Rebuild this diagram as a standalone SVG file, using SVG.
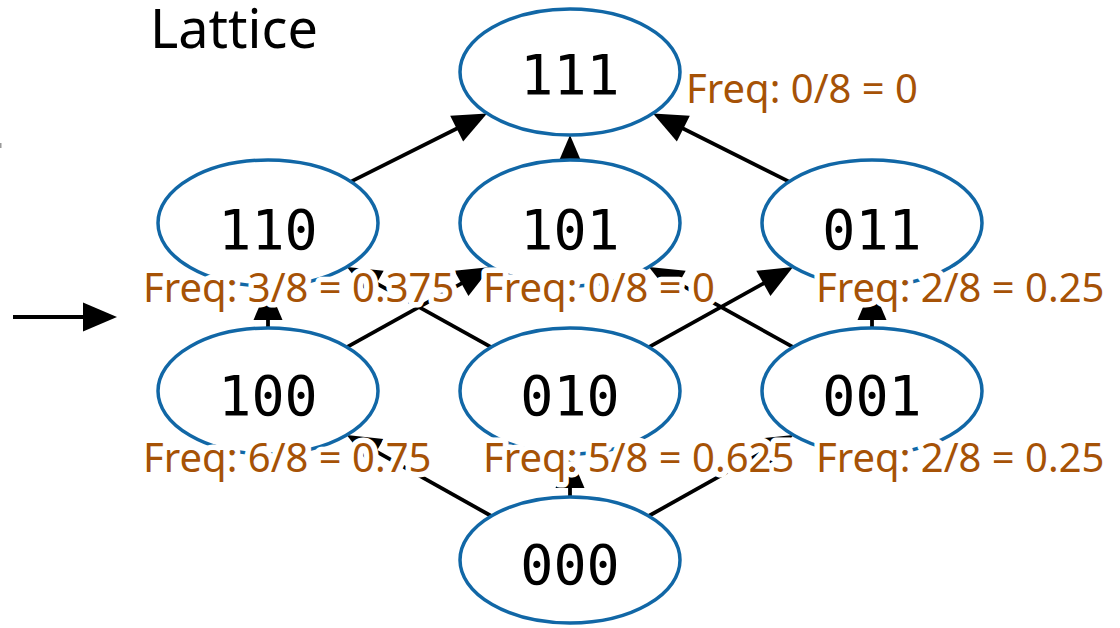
<svg xmlns="http://www.w3.org/2000/svg" width="1120" height="628" viewBox="0 0 1120 628">
  <style>
    .node ellipse { fill: #ffffff; stroke: #1167a6; stroke-width: 3.5; }
    .node .name { font-family: "DejaVu Sans Mono", monospace; font-size: 55px; fill: #000000; text-anchor: middle; }
    .node .freq { font-family: "Noto Sans", "Open Sans", sans-serif; font-size: 40px; fill: #a65206;
                  stroke: #ffffff; stroke-width: 11; stroke-linejoin: round; paint-order: stroke; }
    .title { font-family: "Noto Sans", "Open Sans", sans-serif; font-size: 54px; fill: #000000; }
    #edges line { stroke: #000000; stroke-width: 3.8; marker-end: url(#head); }
  </style>
  <defs>
    <marker id="head" markerUnits="userSpaceOnUse" markerWidth="34" markerHeight="29"
            refX="26" refY="14.5" orient="auto" overflow="visible">
      <path d="M0,0 L34,14.5 L0,29 Z" fill="#000000"/>
    </marker>
  </defs>

  <rect width="1120" height="628" fill="#ffffff"/>

  <text class="title" x="150" y="48">Lattice</text>
  <rect x="0" y="143" width="1.5" height="5" fill="#9a9a9a"/>

  <!-- connectors: every arrow runs from an element to its superset -->
  <g id="edges">
    <line x1="13" y1="317" x2="109" y2="317"/>
    <line x1="350.9" y1="181.6" x2="479.9" y2="117.0"/>
    <line x1="570" y1="160" x2="570" y2="143"/>
    <line x1="789.1" y1="181.6" x2="660.1" y2="117.0"/>
    <line x1="268" y1="328" x2="268" y2="294"/>
    <line x1="346.9" y1="347.1" x2="484.1" y2="270.8"/>
    <line x1="491.1" y1="347.1" x2="353.9" y2="270.8"/>
    <line x1="648.9" y1="347.1" x2="786.1" y2="270.8"/>
    <line x1="793.1" y1="347.1" x2="655.9" y2="270.8"/>
    <line x1="872" y1="328" x2="872" y2="294"/>
    <line x1="491.3" y1="516" x2="353.7" y2="438.9"/>
    <line x1="570" y1="497" x2="570" y2="462"/>
    <line x1="648.7" y1="516" x2="786.3" y2="438.9"/>
  </g>

  <g id="n111" class="node">
    <ellipse cx="570" cy="72" rx="110" ry="63"/>
    <text class="name" x="570" y="94">111</text>
    <text class="freq" x="686" y="103">Freq: 0/8 = 0</text>
  </g>
  <g id="n011" class="node">
    <ellipse cx="872" cy="223" rx="110" ry="63"/>
    <text class="name" x="872" y="249">011</text>
    <text class="freq" x="816" y="302">Freq: 2/8 = 0.25</text>
  </g>
  <g id="n101" class="node">
    <ellipse cx="570" cy="223" rx="110" ry="63"/>
    <text class="name" x="570" y="249">101</text>
    <text class="freq" x="483" y="302">Freq: 0/8 = 0</text>
  </g>
  <g id="n110" class="node">
    <ellipse cx="268" cy="223" rx="110" ry="63"/>
    <text class="name" x="268" y="249">110</text>
    <text class="freq" x="143" y="302">Freq: 3/8 = 0.375</text>
  </g>
  <g id="n001" class="node">
    <ellipse cx="872" cy="391" rx="110" ry="63"/>
    <text class="name" x="872" y="415">001</text>
    <text class="freq" x="816" y="472">Freq: 2/8 = 0.25</text>
  </g>
  <g id="n010" class="node">
    <ellipse cx="570" cy="391" rx="110" ry="63"/>
    <text class="name" x="570" y="415">010</text>
    <text class="freq" x="483" y="472">Freq: 5/8 = 0.625</text>
  </g>
  <g id="n100" class="node">
    <ellipse cx="268" cy="391" rx="110" ry="63"/>
    <text class="name" x="268" y="415">100</text>
    <text class="freq" x="143" y="472">Freq: 6/8 = 0.75</text>
  </g>
  <g id="n000" class="node">
    <ellipse cx="570" cy="560" rx="110" ry="63"/>
    <text class="name" x="570" y="584">000</text>
  </g>
</svg>
